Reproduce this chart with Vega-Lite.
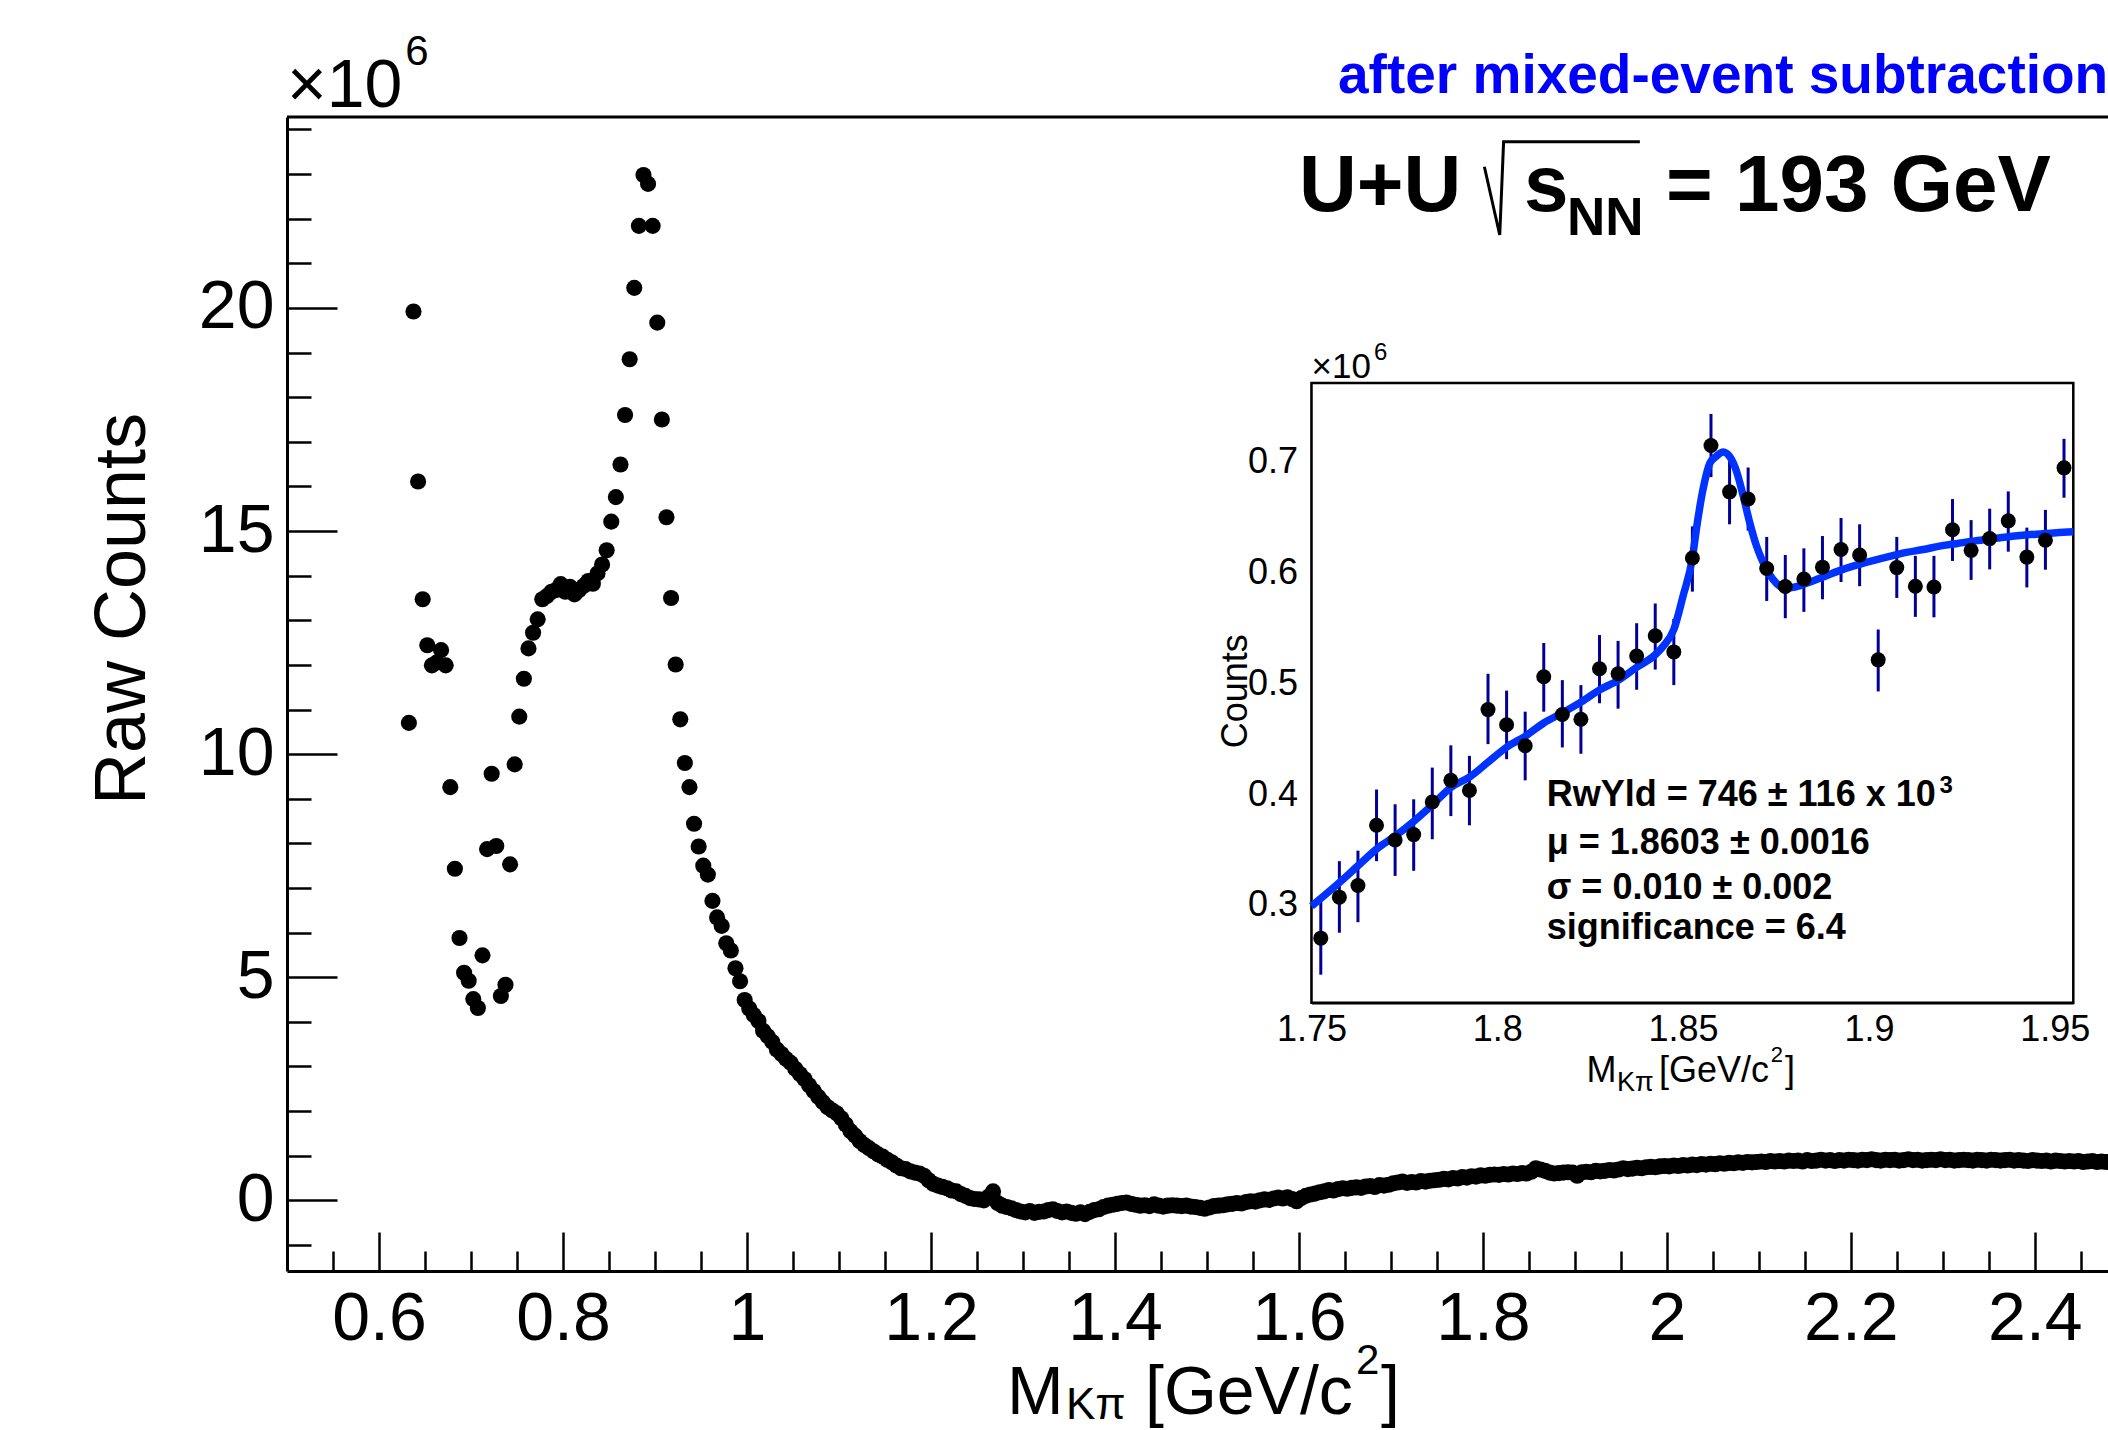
{
"$schema": "https://vega.github.io/schema/vega-lite/v6.json",
"width": 1821, "height": 1154,
"autosize": {"type": "none"},
"padding": {"left": 287, "top": 117, "right": 0, "bottom": 159},
"background": "white",
"config": {"view": {"stroke": null}, "font": "Liberation Sans", "axis": {"grid": false, "domainColor": "black", "tickColor": "black", "labelColor": "black", "labelFont": "Liberation Sans", "zindex": 1}},
"datasets": {
"main": [
{"m":0.6325,"c":10.70},{"m":0.6375,"c":19.92},{"m":0.6425,"c":16.11},{"m":0.6475,"c":13.47},{"m":0.6525,"c":12.44},{"m":0.6575,"c":11.99},{"m":0.6625,"c":12.05},{"m":0.6675,"c":12.33},{"m":0.6725,"c":11.99},{"m":0.6775,"c":9.26},{"m":0.6825,"c":7.43},{"m":0.6875,"c":5.88},{"m":0.6925,"c":5.10},{"m":0.6975,"c":4.92},{"m":0.7025,"c":4.51},{"m":0.7075,"c":4.31},{"m":0.7125,"c":5.49},{"m":0.7175,"c":7.87},{"m":0.7225,"c":9.56},{"m":0.7275,"c":7.94},{"m":0.7325,"c":4.58},{"m":0.7375,"c":4.83},{"m":0.7425,"c":7.53},{"m":0.7475,"c":9.77},{"m":0.7525,"c":10.84},{"m":0.7575,"c":11.69},{"m":0.7625,"c":12.37},{"m":0.7675,"c":12.72},{"m":0.7725,"c":13.02},{"m":0.7775,"c":13.47},{"m":0.7825,"c":13.54},{"m":0.7875,"c":13.64},{"m":0.7925,"c":13.68},{"m":0.7975,"c":13.81},{"m":0.8025,"c":13.64},{"m":0.8075,"c":13.75},{"m":0.8125,"c":13.58},{"m":0.8175,"c":13.68},{"m":0.8225,"c":13.77},{"m":0.8275,"c":13.88},{"m":0.8325,"c":13.82},{"m":0.8375,"c":14.05},{"m":0.8425,"c":14.25},{"m":0.8475,"c":14.57},{"m":0.8525,"c":15.21},{"m":0.8575,"c":15.76},{"m":0.8625,"c":16.49},{"m":0.8675,"c":17.60},{"m":0.8725,"c":18.85},{"m":0.8775,"c":20.45},{"m":0.8825,"c":21.84},{"m":0.8875,"c":22.98},{"m":0.8925,"c":22.78},{"m":0.8975,"c":21.84},{"m":0.9025,"c":19.67},{"m":0.9075,"c":17.50},{"m":0.9125,"c":15.31},{"m":0.9175,"c":13.50},{"m":0.9225,"c":12.01},{"m":0.9275,"c":10.78},{"m":0.9325,"c":9.80},{"m":0.9375,"c":9.26},{"m":0.9425,"c":8.44},{"m":0.9475,"c":7.93},{"m":0.9525,"c":7.50},{"m":0.9575,"c":7.30},{"m":0.9625,"c":6.71},{"m":0.9675,"c":6.34},{"m":0.9725,"c":6.15},{"m":0.9775,"c":5.76},{"m":0.9825,"c":5.60},{"m":0.9875,"c":5.20},{"m":0.9925,"c":4.91},{"m":0.9975,"c":4.49},
{"m":1.0025,"c":4.30},{"m":1.0075,"c":4.15},{"m":1.0125,"c":4.02},{"m":1.0175,"c":3.80},{"m":1.0225,"c":3.68},{"m":1.0275,"c":3.55},{"m":1.0325,"c":3.38},{"m":1.0375,"c":3.28},{"m":1.0425,"c":3.17},{"m":1.0475,"c":3.08},{"m":1.0525,"c":2.95},{"m":1.0575,"c":2.83},{"m":1.0625,"c":2.72},{"m":1.0675,"c":2.58},{"m":1.0725,"c":2.45},{"m":1.0775,"c":2.32},{"m":1.0825,"c":2.20},{"m":1.0875,"c":2.09},{"m":1.0925,"c":2.02},{"m":1.0975,"c":1.95},{"m":1.1025,"c":1.84},{"m":1.1075,"c":1.70},{"m":1.1125,"c":1.55},{"m":1.1175,"c":1.45},{"m":1.1225,"c":1.33},{"m":1.1275,"c":1.24},{"m":1.1325,"c":1.17},{"m":1.1375,"c":1.10},{"m":1.1425,"c":1.03},{"m":1.1475,"c":0.98},{"m":1.1525,"c":0.91},{"m":1.1575,"c":0.85},{"m":1.1625,"c":0.78},{"m":1.1675,"c":0.72},{"m":1.1725,"c":0.70},{"m":1.1775,"c":0.65},{"m":1.1825,"c":0.62},{"m":1.1875,"c":0.60},{"m":1.1925,"c":0.55},{"m":1.1975,"c":0.45},
{"m":1.2025,"c":0.37},{"m":1.2075,"c":0.33},{"m":1.2125,"c":0.30},{"m":1.2175,"c":0.27},{"m":1.2225,"c":0.22},{"m":1.2275,"c":0.20},{"m":1.2325,"c":0.14},{"m":1.2375,"c":0.10},{"m":1.2425,"c":0.05},{"m":1.2475,"c":0.03},{"m":1.2525,"c":0.02},{"m":1.2575,"c":0.00},{"m":1.2625,"c":0.08},{"m":1.2675,"c":0.20},{"m":1.2725,"c":-0.06},{"m":1.2775,"c":-0.12},{"m":1.2825,"c":-0.15},{"m":1.2875,"c":-0.18},{"m":1.2925,"c":-0.22},{"m":1.2975,"c":-0.25},{"m":1.3025,"c":-0.27},{"m":1.3075,"c":-0.24},{"m":1.3125,"c":-0.28},{"m":1.3175,"c":-0.26},{"m":1.3225,"c":-0.25},{"m":1.3275,"c":-0.22},{"m":1.3325,"c":-0.20},{"m":1.3375,"c":-0.24},{"m":1.3425,"c":-0.27},{"m":1.3475,"c":-0.25},{"m":1.3525,"c":-0.28},{"m":1.3575,"c":-0.30},{"m":1.3625,"c":-0.27},{"m":1.3675,"c":-0.31},{"m":1.3725,"c":-0.26},{"m":1.3775,"c":-0.22},{"m":1.3825,"c":-0.20},{"m":1.3875,"c":-0.15},{"m":1.3925,"c":-0.12},{"m":1.3975,"c":-0.10},
{"m":1.4025,"c":-0.08},{"m":1.4075,"c":-0.06},{"m":1.4125,"c":-0.05},{"m":1.4175,"c":-0.08},{"m":1.4225,"c":-0.10},{"m":1.4275,"c":-0.12},{"m":1.4325,"c":-0.11},{"m":1.4375,"c":-0.13},{"m":1.4425,"c":-0.09},{"m":1.4475,"c":-0.12},{"m":1.4525,"c":-0.14},{"m":1.4575,"c":-0.12},{"m":1.4625,"c":-0.11},{"m":1.4675,"c":-0.12},{"m":1.4725,"c":-0.13},{"m":1.4775,"c":-0.12},{"m":1.4825,"c":-0.14},{"m":1.4875,"c":-0.15},{"m":1.4925,"c":-0.17},{"m":1.4975,"c":-0.19},{"m":1.5025,"c":-0.16},{"m":1.5075,"c":-0.13},{"m":1.5125,"c":-0.12},{"m":1.5175,"c":-0.11},{"m":1.5225,"c":-0.09},{"m":1.5275,"c":-0.08},{"m":1.5325,"c":-0.06},{"m":1.5375,"c":-0.07},{"m":1.5425,"c":-0.04},{"m":1.5475,"c":-0.02},{"m":1.5525,"c":-0.03},{"m":1.5575,"c":0.00},{"m":1.5625,"c":0.02},{"m":1.5675,"c":0.01},{"m":1.5725,"c":0.04},{"m":1.5775,"c":0.06},{"m":1.5825,"c":0.04},{"m":1.5875,"c":0.07},{"m":1.5925,"c":0.03},{"m":1.5975,"c":-0.02},
{"m":1.6025,"c":0.05},{"m":1.6075,"c":0.10},{"m":1.6125,"c":0.13},{"m":1.6175,"c":0.15},{"m":1.6225,"c":0.18},{"m":1.6275,"c":0.20},{"m":1.6325,"c":0.23},{"m":1.6375,"c":0.22},{"m":1.6425,"c":0.25},{"m":1.6475,"c":0.27},{"m":1.6525,"c":0.26},{"m":1.6575,"c":0.28},{"m":1.6625,"c":0.29},{"m":1.6675,"c":0.28},{"m":1.6725,"c":0.31},{"m":1.6775,"c":0.32},{"m":1.6825,"c":0.30},{"m":1.6875,"c":0.34},{"m":1.6925,"c":0.33},{"m":1.6975,"c":0.35},{"m":1.7025,"c":0.38},{"m":1.7075,"c":0.40},{"m":1.7125,"c":0.42},{"m":1.7175,"c":0.39},{"m":1.7225,"c":0.41},{"m":1.7275,"c":0.40},{"m":1.7325,"c":0.43},{"m":1.7375,"c":0.42},{"m":1.7425,"c":0.44},{"m":1.7475,"c":0.45},{"m":1.7525,"c":0.46},{"m":1.7575,"c":0.48},{"m":1.7625,"c":0.47},{"m":1.7675,"c":0.50},{"m":1.7725,"c":0.49},{"m":1.7775,"c":0.52},{"m":1.7825,"c":0.51},{"m":1.7875,"c":0.54},{"m":1.7925,"c":0.53},{"m":1.7975,"c":0.56},
{"m":1.8025,"c":0.55},{"m":1.8075,"c":0.57},{"m":1.8125,"c":0.58},{"m":1.8175,"c":0.57},{"m":1.8225,"c":0.59},{"m":1.8275,"c":0.58},{"m":1.8325,"c":0.60},{"m":1.8375,"c":0.59},{"m":1.8425,"c":0.61},{"m":1.8475,"c":0.60},{"m":1.8525,"c":0.64},{"m":1.8575,"c":0.72},{"m":1.8625,"c":0.69},{"m":1.8675,"c":0.66},{"m":1.8725,"c":0.62},{"m":1.8775,"c":0.60},{"m":1.8825,"c":0.61},{"m":1.8875,"c":0.62},{"m":1.8925,"c":0.63},{"m":1.8975,"c":0.62},{"m":1.9025,"c":0.55},{"m":1.9075,"c":0.63},{"m":1.9125,"c":0.64},{"m":1.9175,"c":0.63},{"m":1.9225,"c":0.66},{"m":1.9275,"c":0.65},{"m":1.9325,"c":0.66},{"m":1.9375,"c":0.68},{"m":1.9425,"c":0.67},{"m":1.9475,"c":0.69},{"m":1.9525,"c":0.72},{"m":1.9575,"c":0.70},{"m":1.9625,"c":0.71},{"m":1.9675,"c":0.73},{"m":1.9725,"c":0.72},{"m":1.9775,"c":0.74},{"m":1.9825,"c":0.75},{"m":1.9875,"c":0.74},{"m":1.9925,"c":0.76},{"m":1.9975,"c":0.77},
{"m":2.0025,"c":0.76},{"m":2.0075,"c":0.78},{"m":2.0125,"c":0.77},{"m":2.0175,"c":0.79},{"m":2.0225,"c":0.78},{"m":2.0275,"c":0.80},{"m":2.0325,"c":0.79},{"m":2.0375,"c":0.81},{"m":2.0425,"c":0.80},{"m":2.0475,"c":0.82},{"m":2.0525,"c":0.81},{"m":2.0575,"c":0.83},{"m":2.0625,"c":0.82},{"m":2.0675,"c":0.84},{"m":2.0725,"c":0.83},{"m":2.0775,"c":0.85},{"m":2.0825,"c":0.84},{"m":2.0875,"c":0.86},{"m":2.0925,"c":0.85},{"m":2.0975,"c":0.86},{"m":2.1025,"c":0.87},{"m":2.1075,"c":0.86},{"m":2.1125,"c":0.88},{"m":2.1175,"c":0.87},{"m":2.1225,"c":0.88},{"m":2.1275,"c":0.87},{"m":2.1325,"c":0.89},{"m":2.1375,"c":0.88},{"m":2.1425,"c":0.89},{"m":2.1475,"c":0.87},{"m":2.1525,"c":0.90},{"m":2.1575,"c":0.88},{"m":2.1625,"c":0.89},{"m":2.1675,"c":0.91},{"m":2.1725,"c":0.89},{"m":2.1775,"c":0.90},{"m":2.1825,"c":0.88},{"m":2.1875,"c":0.90},{"m":2.1925,"c":0.89},{"m":2.1975,"c":0.91},
{"m":2.2025,"c":0.90},{"m":2.2075,"c":0.89},{"m":2.2125,"c":0.91},{"m":2.2175,"c":0.90},{"m":2.2225,"c":0.92},{"m":2.2275,"c":0.90},{"m":2.2325,"c":0.89},{"m":2.2375,"c":0.91},{"m":2.2425,"c":0.90},{"m":2.2475,"c":0.91},{"m":2.2525,"c":0.89},{"m":2.2575,"c":0.90},{"m":2.2625,"c":0.92},{"m":2.2675,"c":0.90},{"m":2.2725,"c":0.91},{"m":2.2775,"c":0.89},{"m":2.2825,"c":0.90},{"m":2.2875,"c":0.91},{"m":2.2925,"c":0.90},{"m":2.2975,"c":0.92},{"m":2.3025,"c":0.90},{"m":2.3075,"c":0.91},{"m":2.3125,"c":0.89},{"m":2.3175,"c":0.90},{"m":2.3225,"c":0.91},{"m":2.3275,"c":0.90},{"m":2.3325,"c":0.89},{"m":2.3375,"c":0.91},{"m":2.3425,"c":0.90},{"m":2.3475,"c":0.89},{"m":2.3525,"c":0.91},{"m":2.3575,"c":0.90},{"m":2.3625,"c":0.89},{"m":2.3675,"c":0.90},{"m":2.3725,"c":0.91},{"m":2.3775,"c":0.89},{"m":2.3825,"c":0.90},{"m":2.3875,"c":0.89},{"m":2.3925,"c":0.88},{"m":2.3975,"c":0.90},
{"m":2.4025,"c":0.89},{"m":2.4075,"c":0.88},{"m":2.4125,"c":0.89},{"m":2.4175,"c":0.87},{"m":2.4225,"c":0.89},{"m":2.4275,"c":0.88},{"m":2.4325,"c":0.87},{"m":2.4375,"c":0.88},{"m":2.4425,"c":0.87},{"m":2.4475,"c":0.88},{"m":2.4525,"c":0.86},{"m":2.4575,"c":0.87},{"m":2.4625,"c":0.88},{"m":2.4675,"c":0.86},{"m":2.4725,"c":0.87},{"m":2.4775,"c":0.86}
],
"ins": [
{"x":1.7525,"y":0.270,"lo":0.237,"hi":0.303},{"x":1.7575,"y":0.307,"lo":0.2749,"hi":0.3395},{"x":1.7625,"y":0.3175,"lo":0.2844,"hi":0.349},{"x":1.7675,"y":0.372,"lo":0.3395,"hi":0.4042},{"x":1.7725,"y":0.3586,"lo":0.3262,"hi":0.3909},{"x":1.7775,"y":0.3635,"lo":0.3308,"hi":0.3954},{"x":1.7825,"y":0.393,"lo":0.3593,"hi":0.424},{"x":1.7875,"y":0.4125,"lo":0.3802,"hi":0.4441},{"x":1.7925,"y":0.4034,"lo":0.3719,"hi":0.4346},{"x":1.7975,"y":0.4764,"lo":0.4452,"hi":0.5087},
{"x":1.8025,"y":0.4627,"lo":0.4316,"hi":0.4935},{"x":1.8075,"y":0.4437,"lo":0.4125,"hi":0.4745},{"x":1.8125,"y":0.5061,"lo":0.4745,"hi":0.5365},{"x":1.8175,"y":0.4719,"lo":0.4422,"hi":0.503},{"x":1.8225,"y":0.4677,"lo":0.4365,"hi":0.4985},{"x":1.8275,"y":0.5133,"lo":0.4821,"hi":0.5437},{"x":1.8325,"y":0.5087,"lo":0.4772,"hi":0.5384},{"x":1.8375,"y":0.5247,"lo":0.4943,"hi":0.5544},{"x":1.8425,"y":0.543,"lo":0.5125,"hi":0.5722},{"x":1.8475,"y":0.5285,"lo":0.4985,"hi":0.5582},
{"x":1.8525,"y":0.6133,"lo":0.5829,"hi":0.6418},{"x":1.8575,"y":0.7148,"lo":0.6863,"hi":0.7433},{"x":1.8625,"y":0.673,"lo":0.6437,"hi":0.7008},{"x":1.8675,"y":0.6665,"lo":0.638,"hi":0.695},{"x":1.8725,"y":0.6038,"lo":0.5745,"hi":0.6323},{"x":1.8775,"y":0.5875,"lo":0.5589,"hi":0.616},{"x":1.8825,"y":0.5943,"lo":0.5646,"hi":0.622},{"x":1.8875,"y":0.605,"lo":0.576,"hi":0.6331},{"x":1.8925,"y":0.6209,"lo":0.5916,"hi":0.6494},{"x":1.8975,"y":0.616,"lo":0.5878,"hi":0.6437},
{"x":1.9025,"y":0.5213,"lo":0.4928,"hi":0.5487},{"x":1.9075,"y":0.6046,"lo":0.5772,"hi":0.6323},{"x":1.9125,"y":0.5878,"lo":0.5601,"hi":0.6152},{"x":1.9175,"y":0.5871,"lo":0.5597,"hi":0.6152},{"x":1.9225,"y":0.6388,"lo":0.6106,"hi":0.6665},{"x":1.9275,"y":0.6202,"lo":0.5935,"hi":0.6475},{"x":1.9325,"y":0.6308,"lo":0.603,"hi":0.6578},{"x":1.9375,"y":0.6468,"lo":0.619,"hi":0.6734},{"x":1.9425,"y":0.6141,"lo":0.5867,"hi":0.6407},{"x":1.9475,"y":0.6293,"lo":0.6027,"hi":0.6567},{"x":1.9525,"y":0.6947,"lo":0.6677,"hi":0.7209}
],
"fit": [
{"x":1.75,"y":0.2989},{"x":1.7576,"y":0.3205},{"x":1.7626,"y":0.3357},{"x":1.7677,"y":0.351},{"x":1.7726,"y":0.3624},{"x":1.7776,"y":0.3757},{"x":1.7827,"y":0.3909},{"x":1.7875,"y":0.4061},{"x":1.7926,"y":0.4156},{"x":1.7975,"y":0.4289},{"x":1.8024,"y":0.4422},{"x":1.8076,"y":0.4525},{"x":1.8125,"y":0.4643},{"x":1.8175,"y":0.4734},{"x":1.8226,"y":0.4833},{"x":1.8276,"y":0.4943},{"x":1.8326,"y":0.503},{"x":1.8374,"y":0.5144},{"x":1.8425,"y":0.5259},{"x":1.8446,"y":0.5335},{"x":1.8475,"y":0.5487},{"x":1.85,"y":0.5791},{"x":1.8525,"y":0.6133},{"x":1.8536,"y":0.64},{"x":1.8554,"y":0.676},{"x":1.8572,"y":0.6989},{"x":1.859,"y":0.7053},{"x":1.8608,"y":0.7091},{"x":1.8626,"y":0.7046},{"x":1.8644,"y":0.6913},{"x":1.8661,"y":0.6703},{"x":1.8679,"y":0.6456},{"x":1.8697,"y":0.6247},{"x":1.8715,"y":0.6095},{"x":1.8733,"y":0.5981},{"x":1.8751,"y":0.5905},{"x":1.8774,"y":0.5859},{"x":1.8796,"y":0.5867},{"x":1.8832,"y":0.5905},{"x":1.8877,"y":0.5962},{"x":1.8921,"y":0.6019},{"x":1.8966,"y":0.6068},{"x":1.9011,"y":0.611},{"x":1.9056,"y":0.6148},{"x":1.9101,"y":0.6183},{"x":1.9146,"y":0.6209},{"x":1.919,"y":0.624},{"x":1.9235,"y":0.6262},{"x":1.928,"y":0.6285},{"x":1.9325,"y":0.6304},{"x":1.937,"y":0.6323},{"x":1.9414,"y":0.6338},{"x":1.9459,"y":0.635},{"x":1.9504,"y":0.6361},{"x":1.955,"y":0.6369}
],
"radical": [{"px":1.8016,"py":23.164},{"px":1.8183,"py":21.634},{"px":1.8225,"py":23.725},{"px":1.9706,"py":23.725}]
},
"resolve": {"scale": {"x": "independent", "y": "independent"}},
"layer": [
{
"layer": [
{"data": {"name": "main"},
 "mark": {"type": "circle", "size": 260, "color": "black", "opacity": 1},
 "encoding": {
  "x": {"field": "m", "type": "quantitative", "scale": {"domain": [0.5, 2.4795], "nice": false, "zero": false},
   "axis": {"orient": "bottom", "title": null, "values": [0.55,0.6,0.65,0.7,0.75,0.8,0.85,0.9,0.95,1,1.05,1.1,1.15,1.2,1.25,1.3,1.35,1.4,1.45,1.5,1.55,1.6,1.65,1.7,1.75,1.8,1.85,1.9,1.95,2,2.05,2.1,2.15,2.2,2.25,2.3,2.35,2.4,2.45],
    "labelExpr": "abs(datum.value*5 - round(datum.value*5)) < 0.001 ? format(datum.value, '.2~f') : ''",
    "tickSize": {"condition": {"test": "abs(datum.value*5 - round(datum.value*5)) < 0.001", "value": -39}, "value": -20},
    "tickWidth": 2.5, "domainWidth": 3, "labelFontSize": 68, "labelPadding": 53, "labelOverlap": false, "labelFlush": false, "labelBound": false}},
  "y": {"field": "c", "type": "quantitative", "scale": {"domain": [-1.584, 24.279], "nice": false, "zero": false},
   "axis": {"orient": "left", "title": null, "values": [-1,0,1,2,3,4,5,6,7,8,9,10,11,12,13,14,15,16,17,18,19,20,21,22,23,24],
    "labelExpr": "datum.value % 5 == 0 ? format(datum.value, 'd') : ''",
    "tickSize": {"condition": {"test": "datum.value % 5 == 0", "value": -50}, "value": -24},
    "tickWidth": 2.5, "domainWidth": 3, "labelFontSize": 68, "labelPadding": 63, "labelOverlap": false, "labelFlush": false, "labelBound": false}}
 }},
{"data": {"values": [{}]}, "mark": {"type": "rule", "color": "black", "strokeWidth": 3}, "encoding": {"x": {"datum": 0.5}, "x2": {"datum": 2.4795}, "y": {"datum": 24.279}}},
{"data": {"name": "radical"}, "mark": {"type": "line", "color": "black", "strokeWidth": 3}, "encoding": {"x": {"field": "px", "type": "quantitative"}, "y": {"field": "py", "type": "quantitative"}}},
{"data": {"values": [{}]}, "mark": {"type": "text", "align": "left", "baseline": "alphabetic", "fontSize": 68}, "encoding": {"x": {"datum": 0.5}, "y": {"datum": 24.503}, "text": {"value": "×10"}}},
{"data": {"values": [{}]}, "mark": {"type": "text", "align": "left", "baseline": "alphabetic", "fontSize": 42}, "encoding": {"x": {"datum": 0.6285}, "y": {"datum": 25.45}, "text": {"value": "6"}}},
{"data": {"values": [{}]}, "mark": {"type": "text", "align": "left", "baseline": "alphabetic", "fontSize": 55, "fontWeight": "bold", "color": "#0000ff"}, "encoding": {"x": {"datum": 1.6425}, "y": {"datum": 24.817}, "text": {"value": "after mixed-event subtraction"}}},
{"data": {"values": [{}]}, "mark": {"type": "text", "align": "left", "baseline": "alphabetic", "fontSize": 80, "fontWeight": "bold"}, "encoding": {"x": {"datum": 1.6001}, "y": {"datum": 22.172}, "text": {"value": "U+U"}}},
{"data": {"values": [{}]}, "mark": {"type": "text", "align": "left", "baseline": "alphabetic", "fontSize": 80, "fontWeight": "bold"}, "encoding": {"x": {"datum": 1.8447}, "y": {"datum": 22.172}, "text": {"value": "s"}}},
{"data": {"values": [{}]}, "mark": {"type": "text", "align": "left", "baseline": "alphabetic", "fontSize": 53, "fontWeight": "bold"}, "encoding": {"x": {"datum": 1.8914}, "y": {"datum": 21.634}, "text": {"value": "NN"}}},
{"data": {"values": [{}]}, "mark": {"type": "text", "align": "left", "baseline": "alphabetic", "fontSize": 80, "fontWeight": "bold"}, "encoding": {"x": {"datum": 1.9991}, "y": {"datum": 22.172}, "text": {"value": "= 193 GeV"}}},
{"data": {"values": [{}]}, "mark": {"type": "text", "align": "center", "baseline": "alphabetic", "fontSize": 72, "angle": 270}, "encoding": {"x": {"datum": 0.3456}, "y": {"datum": 13.253}, "text": {"value": "Raw Counts"}}},
{"data": {"values": [{}]}, "mark": {"type": "text", "align": "left", "baseline": "alphabetic", "fontSize": 68}, "encoding": {"x": {"datum": 1.2827}, "y": {"datum": -4.800}, "text": {"value": "M"}}},
{"data": {"values": [{}]}, "mark": {"type": "text", "align": "left", "baseline": "alphabetic", "fontSize": 44}, "encoding": {"x": {"datum": 1.3468}, "y": {"datum": -4.912}, "text": {"value": "Kπ"}}},
{"data": {"values": [{}]}, "mark": {"type": "text", "align": "left", "baseline": "alphabetic", "fontSize": 68}, "encoding": {"x": {"datum": 1.4327}, "y": {"datum": -4.800}, "text": {"value": "[GeV/c"}}},
{"data": {"values": [{}]}, "mark": {"type": "text", "align": "left", "baseline": "alphabetic", "fontSize": 42}, "encoding": {"x": {"datum": 1.6621}, "y": {"datum": -3.892}, "text": {"value": "2"}}},
{"data": {"values": [{}]}, "mark": {"type": "text", "align": "left", "baseline": "alphabetic", "fontSize": 68}, "encoding": {"x": {"datum": 1.6893}, "y": {"datum": -4.800}, "text": {"value": "]"}}}
]
},
{
"layer": [
{"data": {"values": [{}]}, "mark": {"type": "rect", "fill": "white", "stroke": "black", "strokeWidth": 2.5}, "encoding": {"x": {"datum": 1.75}, "x2": {"datum": 1.955}, "y": {"datum": 0.2117}, "y2": {"datum": 0.7713}}},
{"data": {"name": "ins"}, "mark": {"type": "rule", "color": "#000099", "strokeWidth": 3},
 "encoding": {
  "x": {"field": "x", "type": "quantitative", "scale": {"domain": [1.75, 1.955], "range": [1024.5, 1786.3], "nice": false, "zero": false},
   "axis": {"orient": "bottom", "offset": -268.3, "title": null, "values": [1.75,1.76,1.77,1.78,1.79,1.8,1.81,1.82,1.83,1.84,1.85,1.86,1.87,1.88,1.89,1.9,1.91,1.92,1.93,1.94,1.95],
    "labelExpr": "abs(datum.value*20 - round(datum.value*20)) < 0.001 ? format(datum.value, '.2~f') : ''",
    "tickSize": {"condition": {"test": "abs(datum.value*20 - round(datum.value*20)) < 0.001", "value": -20}, "value": -11},
    "tickWidth": 2, "domainWidth": 2.5, "labelFontSize": 36, "labelPadding": 30, "labelOverlap": false, "labelFlush": false, "labelBound": false}},
  "y": {"field": "lo", "type": "quantitative", "scale": {"domain": [0.2117, 0.7713], "range": [885.7, 266], "nice": false, "zero": false},
   "axis": {"orient": "left", "offset": -1024.5, "title": null, "values": [0.22,0.24,0.26,0.28,0.3,0.32,0.34,0.36,0.38,0.4,0.42,0.44,0.46,0.48,0.5,0.52,0.54,0.56,0.58,0.6,0.62,0.64,0.66,0.68,0.7,0.72,0.74,0.76],
    "labelExpr": "abs(datum.value*10 - round(datum.value*10)) < 0.001 ? format(datum.value, '.1f') : ''",
    "tickSize": {"condition": {"test": "abs(datum.value*10 - round(datum.value*10)) < 0.001", "value": -20}, "value": -10},
    "tickWidth": 2, "domainWidth": 2.5, "labelFontSize": 36, "labelPadding": 34, "labelOverlap": false, "labelFlush": false, "labelBound": false}},
  "y2": {"field": "hi"}
 }},
{"data": {"name": "fit"}, "mark": {"type": "line", "color": "#0033ff", "strokeWidth": 7.5, "interpolate": "monotone"}, "encoding": {"x": {"field": "x", "type": "quantitative"}, "y": {"field": "y", "type": "quantitative"}}},
{"data": {"name": "ins"}, "mark": {"type": "circle", "size": 225, "color": "black", "opacity": 1}, "encoding": {"x": {"field": "x", "type": "quantitative"}, "y": {"field": "y", "type": "quantitative"}}},
{"data": {"values": [{}]}, "mark": {"type": "text", "align": "left", "baseline": "alphabetic", "fontSize": 35}, "encoding": {"x": {"datum": 1.75}, "y": {"datum": 0.7758}, "text": {"value": "×10"}}},
{"data": {"values": [{}]}, "mark": {"type": "text", "align": "left", "baseline": "alphabetic", "fontSize": 24}, "encoding": {"x": {"datum": 1.7668}, "y": {"datum": 0.7925}, "text": {"value": "6"}}},
{"data": {"values": [{}]}, "mark": {"type": "text", "align": "left", "baseline": "alphabetic", "fontSize": 36, "fontWeight": "bold"}, "encoding": {"x": {"datum": 1.8133}, "y": {"datum": 0.3892}, "text": {"value": "RwYld = 746 ± 116 x 10"}}},
{"data": {"values": [{}]}, "mark": {"type": "text", "align": "left", "baseline": "alphabetic", "fontSize": 24, "fontWeight": "bold"}, "encoding": {"x": {"datum": 1.919}, "y": {"datum": 0.4009}, "text": {"value": "3"}}},
{"data": {"values": [{}]}, "mark": {"type": "text", "align": "left", "baseline": "alphabetic", "fontSize": 36, "fontWeight": "bold"}, "encoding": {"x": {"datum": 1.8133}, "y": {"datum": 0.3460}, "text": {"value": "μ = 1.8603 ± 0.0016"}}},
{"data": {"values": [{}]}, "mark": {"type": "text", "align": "left", "baseline": "alphabetic", "fontSize": 36, "fontWeight": "bold"}, "encoding": {"x": {"datum": 1.8133}, "y": {"datum": 0.3050}, "text": {"value": "σ = 0.010 ± 0.002"}}},
{"data": {"values": [{}]}, "mark": {"type": "text", "align": "left", "baseline": "alphabetic", "fontSize": 36, "fontWeight": "bold"}, "encoding": {"x": {"datum": 1.8133}, "y": {"datum": 0.2696}, "text": {"value": "significance = 6.4"}}},
{"data": {"values": [{}]}, "mark": {"type": "text", "align": "center", "baseline": "alphabetic", "fontSize": 36, "angle": 270}, "encoding": {"x": {"datum": 1.7327}, "y": {"datum": 0.4930}, "text": {"value": "Counts"}}},
{"data": {"values": [{}]}, "mark": {"type": "text", "align": "left", "baseline": "alphabetic", "fontSize": 36}, "encoding": {"x": {"datum": 1.8240}, "y": {"datum": 0.1401}, "text": {"value": "M"}}},
{"data": {"values": [{}]}, "mark": {"type": "text", "align": "left", "baseline": "alphabetic", "fontSize": 27}, "encoding": {"x": {"datum": 1.8322}, "y": {"datum": 0.1320}, "text": {"value": "Kπ"}}},
{"data": {"values": [{}]}, "mark": {"type": "text", "align": "left", "baseline": "alphabetic", "fontSize": 36}, "encoding": {"x": {"datum": 1.8435}, "y": {"datum": 0.1401}, "text": {"value": "[GeV/c"}}},
{"data": {"values": [{}]}, "mark": {"type": "text", "align": "left", "baseline": "alphabetic", "fontSize": 22}, "encoding": {"x": {"datum": 1.8736}, "y": {"datum": 0.1582}, "text": {"value": "2"}}},
{"data": {"values": [{}]}, "mark": {"type": "text", "align": "left", "baseline": "alphabetic", "fontSize": 36}, "encoding": {"x": {"datum": 1.8774}, "y": {"datum": 0.1401}, "text": {"value": "]"}}}
]
}
]
}
